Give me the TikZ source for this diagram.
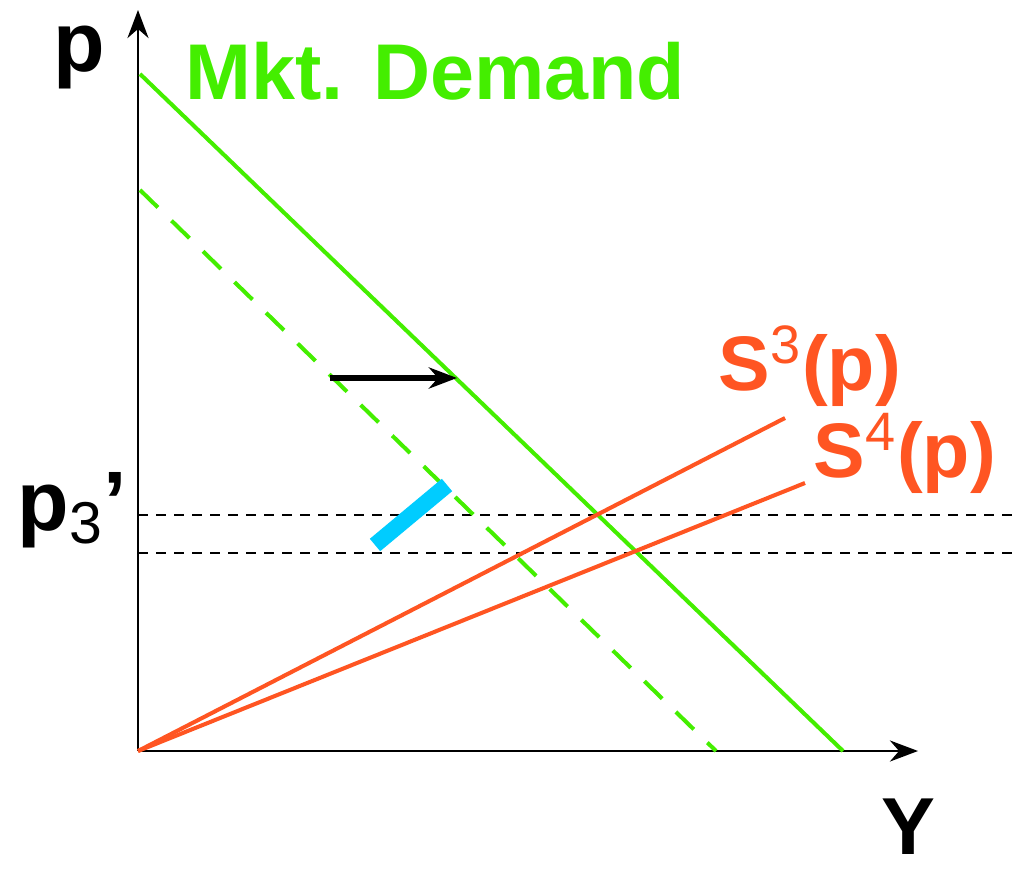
\documentclass[tikz,border=0pt]{standalone}
\usepackage{fontspec}
\setmainfont{Liberation Sans}
\usepackage{tikz}
\usetikzlibrary{arrows.meta}

\definecolor{demgreen}{RGB}{68,238,0}
\definecolor{supred}{RGB}{255,85,34}
\definecolor{shiftblue}{RGB}{0,204,255}

\begin{document}
\begin{tikzpicture}[
    axis/.style={line width=0.65pt, -{Stealth[length=8pt,width=6pt]}},
    demand/.style={demgreen, line width=1.15pt},
    supply/.style={supred, line width=1.15pt},
    level/.style={line width=0.6pt, dash pattern=on 0.1cm off 0.08cm},
    lbl/.style={inner sep=0pt, font=\bfseries}
  ]
  \useasboundingbox (-1.38,-1.18) rectangle (8.79,7.51);

  % axes
  \coordinate (O) at (0,0);
  \coordinate (ytop) at (0,7.41);
  \coordinate (xend) at (7.80,0);
  \draw[axis] (O) -- (ytop);
  \draw[axis] (O) -- (xend);
  \node[lbl, anchor=base west, font=\bfseries\fontsize{24}{24}\selectfont] (plab) at (-0.85,6.79) {p};
  \node[lbl, anchor=base west, font=\bfseries\fontsize{23}{23}\selectfont] (ylab) at (7.43,-1.03) {Y};

  % price levels
  \coordinate (h1a) at (0,2.36);
  \coordinate (h1b) at (8.79,2.36);
  \coordinate (h2a) at (0,1.98);
  \coordinate (h2b) at (8.79,1.98);
  \draw[level] (h1a) -- (h1b);
  \draw[level] (h2a) -- (h2b);
  \node[lbl, anchor=base west, font=\fontsize{24}{24}\selectfont] (p3lab) at (-1.21,2.21)
    {\textbf{p}\textsubscript{3}\textbf{’}};

  % demand
  \coordinate (d1a) at (0.02,6.77);
  \coordinate (d1b) at (7.05,0);
  \coordinate (d2a) at (0.02,5.61);
  \coordinate (d2b) at (5.78,0);
  \draw[demand] (d1a) -- (d1b);
  \draw[demand, dash pattern=on 0.25cm off 0.19cm] (d2a) -- (d2b);
  \node[lbl, anchor=base west, demgreen, font=\bfseries\fontsize{22.5}{22.5}\selectfont] (mkt) at (0.47,6.51) {Mkt. Demand};

  % supply
  \coordinate (s3) at (6.47,3.33);
  \coordinate (s4) at (6.67,2.68);
  \draw[supply] (O) -- (s3);
  \draw[supply] (O) -- (s4);
  \node[lbl, anchor=base west, supred, font=\fontsize{22}{22}\selectfont] (s3lab) at (5.80,3.61)
    {\textbf{S}\textsuperscript{3}\textbf{(p)}};
  \node[lbl, anchor=base west, supred, font=\fontsize{22}{22}\selectfont] (s4lab) at (6.75,2.74)
    {\textbf{S}\textsuperscript{4}\textbf{(p)}};

  % shift
  \coordinate (sa) at (1.92,3.73);
  \coordinate (sb) at (3.19,3.73);
  \draw[line width=1.6pt, -{Stealth[length=8pt,width=6pt]}] (sa) -- (sb);
  \coordinate (ba) at (2.37,2.06);
  \coordinate (bb) at (3.09,2.66);
  \draw[shiftblue, line width=4.6pt] (ba) -- (bb);
\end{tikzpicture}
\end{document}
